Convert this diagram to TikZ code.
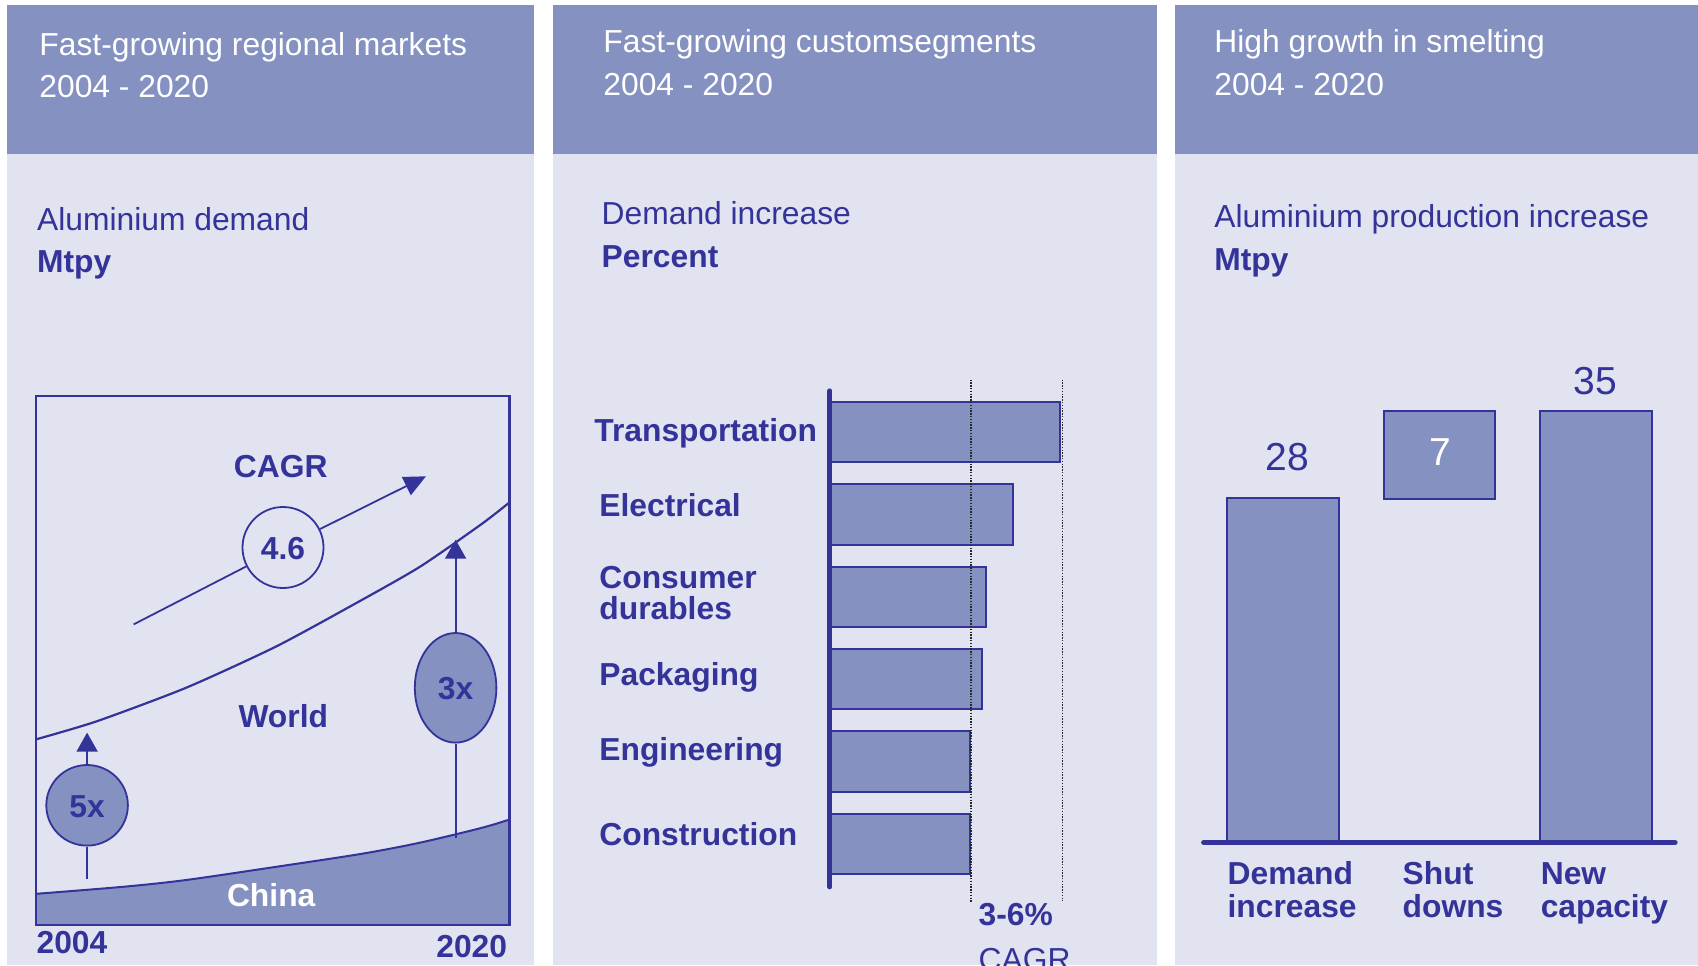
\documentclass[tikz,border=0pt]{standalone}
\usepackage{fontspec}
\setmainfont{Liberation Sans}
\usetikzlibrary{shapes.geometric,arrows.meta}
\definecolor{hdr}{RGB}{132,145,193}
\definecolor{bodybg}{RGB}{225,227,240}
\definecolor{navy}{RGB}{51,51,153}
\begin{document}
\begin{tikzpicture}[x=0.5pt,y=-0.5pt,
  hdrtext/.style={anchor=base west, text=white, font=\fontsize{15.9}{16}\selectfont, inner sep=0},
  ttl/.style={anchor=base west, text=navy, font=\fontsize{15.9}{16}\selectfont, inner sep=0},
  unitlbl/.style={anchor=base west, text=navy, font=\bfseries\fontsize{15.9}{16}\selectfont, inner sep=0},
  catlbl/.style={anchor=base west, text=navy, font=\bfseries\fontsize{15.9}{16}\selectfont, inner sep=0},
  bigtxt/.style={text=navy, font=\bfseries\fontsize{15.9}{16}\selectfont, inner sep=0},
  numlbl/.style={anchor=base, text=navy, font=\fontsize{19.5}{19.5}\selectfont, inner sep=0},
  barbox/.style={draw=navy, fill=hdr, line width=1pt},
  thinline/.style={draw=navy, line width=0.9pt},
  tipline/.style={draw=navy, line width=0.9pt, -{Triangle[length=9.5pt,width=10.5pt]}, fill=navy},
  dotline/.style={draw=black!85, line width=0.8pt, dash pattern=on 0.7pt off 0.7pt},
  oval/.style={shape=ellipse, draw=navy, line width=0.9pt, fill=hdr, inner sep=0, text=navy, font=\bfseries\fontsize{16}{16}\selectfont}
]
\useasboundingbox (0,0) rectangle (1698,965);
\clip (0,0) rectangle (1698,965);
\fill[white] (0,0) rectangle (1698,965);

% ---------- panels ----------
\fill[bodybg] (7,154) rectangle (534,965);
\fill[hdr] (7,5) rectangle (534,154);
\fill[bodybg] (553.4,154) rectangle (1156.6,965);
\fill[hdr] (553.4,5) rectangle (1156.6,154);
\fill[bodybg] (1175,154) rectangle (1698,965);
\fill[hdr] (1175,5) rectangle (1698,154);

% ---------- headers ----------
\node[hdrtext] (h1a) at (39,55.7) {Fast-growing regional markets};
\node[hdrtext] (h1b) at (39,97.7) {2004 - 2020};
\node[hdrtext] (h2a) at (603,52.3) {Fast-growing customsegments};
\node[hdrtext] (h2b) at (603,95.7) {2004 - 2020};
\node[hdrtext] (h3a) at (1214,52.3) {High growth in smelting};
\node[hdrtext] (h3b) at (1214,95.7) {2004 - 2020};

\node[ttl] (t1) at (36.7,230.7) {Aluminium demand};
\node[unitlbl] (u1) at (36.7,272.3) {Mtpy};
\node[ttl] (t2) at (601.3,224.3) {Demand increase};
\node[unitlbl] (u2) at (601.3,267.7) {Percent};
\node[ttl] (t3) at (1214,227.7) {Aluminium production increase};
\node[unitlbl] (u3) at (1214,270.7) {Mtpy};

% ---------- panel 1 chart ----------
\fill[hdr] plot[smooth, tension=0.5] coordinates {(36.2,893.8) (124,886.7) (186,880) (275.5,866.9) (361.6,853.8) (420.2,842.6) (482.2,827.7) (509.4,819.5)}
  -- (509.4,924.7) -- (36.2,924.7) -- cycle;
\draw[navy, line width=1pt] plot[smooth, tension=0.5] coordinates {(36.2,893.8) (124,886.7) (186,880) (275.5,866.9) (361.6,853.8) (420.2,842.6) (482.2,827.7) (509.4,819.5)};
\draw[navy, line width=1.1pt] plot[smooth, tension=0.4] coordinates {(36.2,739.3) (96.4,721.4) (186,687.8) (275.5,646.8) (354.7,603.9) (420.2,566.6) (482.2,523.6) (509.4,502.4)};
\draw[navy, line width=1.1pt] (36.2,396) rectangle (509.4,924.7);

\node[bigtxt, anchor=base] (cagr1) at (280.7,477) {CAGR};
\coordinate (cagrstart) at (133.6,624.4);
\coordinate (cagrtip) at (426,476.3);
\node[shape=circle, draw=navy, line width=0.9pt, fill=bodybg, minimum size=40.5pt, inner sep=0] (c46) at (283,547.5) {};
\draw[thinline] (cagrstart) -- (c46);
\draw[thinline, -{Triangle[length=11pt,width=10pt]}, fill=navy] (c46) -- (cagrtip);
\node[bigtxt, anchor=base] (v46) at (283,559.1) {4.6};

\node[bigtxt, anchor=base] (world) at (283.3,727) {World};
\node[bigtxt, anchor=base, text=white] (china) at (271.2,906) {China};
\node[bigtxt, anchor=base west] (y2004) at (36.2,953.8) {2004};
\node[bigtxt, anchor=base east] (y2020) at (507.5,957.6) {2020};

\node[oval, minimum width=40.8pt, minimum height=54.8pt] (e3x) at (455.6,687.8) {};
\coordinate (x3base) at (455.6,838.2);
\coordinate (x3tip) at (455.6,539.7);
\draw[thinline] (x3base) -- (e3x);
\draw[tipline] (e3x) -- (x3tip);
\node[bigtxt, anchor=base] (l3x) at (455.6,699) {3x};

\node[oval, minimum width=40.8pt, minimum height=40.3pt] (e5x) at (87.1,805.3) {};
\coordinate (x5base) at (87.1,879.2);
\coordinate (x5tip) at (87.1,732.6);
\draw[thinline] (x5base) -- (e5x);
\draw[tipline] (e5x) -- (x5tip);
\node[bigtxt, anchor=base] (l5x) at (87.1,817.3) {5x};

% ---------- panel 2 chart ----------
\draw[barbox] (829.9,402.3) rectangle (1059.7,461.5);
\draw[barbox] (829.9,483.9) rectangle (1012.7,545.3);
\draw[barbox] (829.9,567.3) rectangle (986,626.9);
\draw[barbox] (829.9,648.9) rectangle (982,708.5);
\draw[barbox] (829.9,730.5) rectangle (969.8,792);
\draw[barbox] (829.9,814) rectangle (969.8,874);
\draw[navy, line width=2.5pt, line cap=round] (829.9,390.9) -- (829.9,886.9);
\draw[dotline] (970.8,379.5) -- (970.8,903);
\draw[dotline] (1062.5,379.5) -- (1062.5,901);

\node[catlbl] (c1) at (594,441.3) {Transportation};
\node[catlbl] (c2) at (599,516.1) {Electrical};
\node[catlbl] (c3a) at (599,588.2) {Consumer};
\node[catlbl] (c3b) at (599,619.7) {durables};
\node[catlbl] (c4) at (599,685) {Packaging};
\node[catlbl] (c5) at (599,760.9) {Engineering};
\node[catlbl] (c6) at (599,845.1) {Construction};

\node[catlbl] (rng) at (978.3,925) {3-6\%};
\node[ttl] (rngc) at (978.3,970) {CAGR};

% ---------- panel 3 chart ----------
\draw[barbox] (1227.2,498.1) rectangle (1339,842.3);
\draw[barbox] (1383.8,410.9) rectangle (1495.2,498.9);
\draw[barbox] (1540.4,410.9) rectangle (1651.5,842.3);
\draw[navy, line width=2.6pt, line cap=round] (1203.7,842.3) -- (1675,842.3);

\node[numlbl] (n28) at (1287.2,470) {28};
\node[numlbl, text=white] (n7) at (1440,465) {7};
\node[numlbl] (n35) at (1595.2,394.7) {35};

\node[catlbl] (d1a) at (1227.2,884.7) {Demand};
\node[catlbl] (d1b) at (1227.2,917.5) {increase};
\node[catlbl] (d2a) at (1402.3,884.7) {Shut};
\node[catlbl] (d2b) at (1402.3,917.5) {downs};
\node[catlbl] (d3a) at (1540.4,884.7) {New};
\node[catlbl] (d3b) at (1540.4,917.5) {capacity};
\end{tikzpicture}
\end{document}
